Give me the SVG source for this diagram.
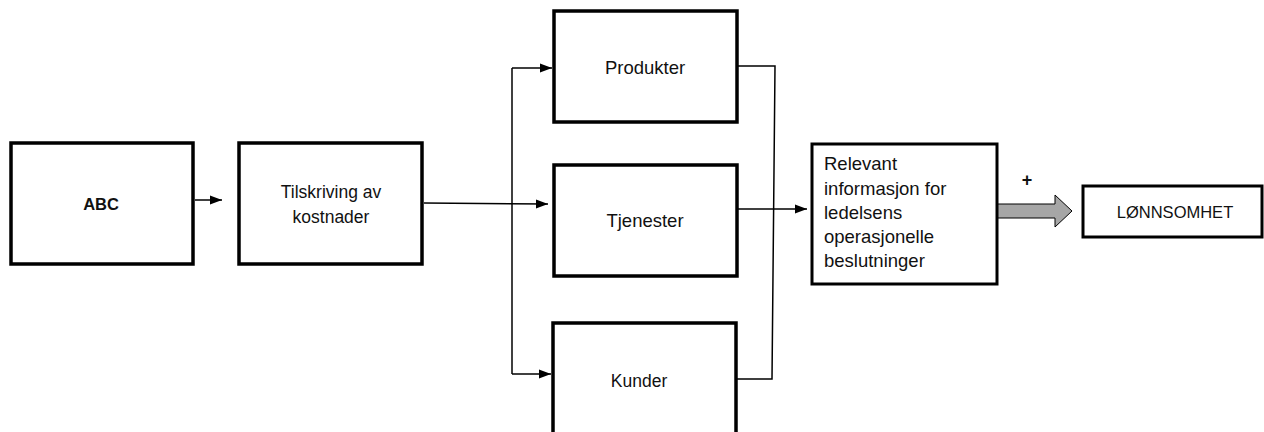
<svg xmlns="http://www.w3.org/2000/svg" width="1264" height="432" viewBox="0 0 1264 432">
  <defs>
    <marker id="arrow" markerWidth="12" markerHeight="10" refX="12" refY="5" orient="auto" markerUnits="userSpaceOnUse">
      <path d="M0,0.5 L12,5 L0,9.5 Z" fill="#000"/>
    </marker>
  </defs>
  <style>
    .box { fill: #fff; stroke: #000; stroke-width: 3.5; }
    .box2 { fill: #fff; stroke: #000; stroke-width: 3; }
    .lbl { font-family: "Liberation Sans", Arial, sans-serif; font-size: 17.5px; fill: #111; }
    .mid { text-anchor: middle; }
    .conn { fill: none; stroke: #000; stroke-width: 1.5; }
  </style>
  <rect width="1264" height="432" fill="#fff"/>

  <!-- connectors -->
  <g id="connectors">
    <line class="conn" x1="195" y1="200" x2="222" y2="200" marker-end="url(#arrow)"/>
    <line class="conn" x1="424" y1="203" x2="548" y2="204" marker-end="url(#arrow)"/>
    <polyline class="conn" points="512,68 512,374"/>
    <line class="conn" x1="512" y1="68" x2="552" y2="68" marker-end="url(#arrow)"/>
    <line class="conn" x1="512" y1="374" x2="551" y2="374" marker-end="url(#arrow)"/>
    <polyline class="conn" points="738,66 775,66 772,379 737,379"/>
    <line class="conn" x1="738" y1="209" x2="807" y2="209" marker-end="url(#arrow)"/>
    <!-- block arrow towards profitability -->
    <path d="M997,204 L1055,204 L1055,195 L1072,211 L1055,227 L1055,218 L997,218 Z" fill="#a6a6a6" stroke="#000" stroke-width="1"/>
    <text x="1027" y="186" class="lbl mid" style="font-weight:bold;font-size:18px">+</text>
  </g>

  <g id="abc">
    <rect class="box" x="11" y="143" width="182" height="121"/>
    <text x="101" y="210" class="lbl mid" style="font-weight:bold;font-size:16.5px">ABC</text>
  </g>

  <g id="tilskriving">
    <rect class="box" x="239" y="143" width="183" height="121"/>
    <text x="331" y="198" class="lbl mid">Tilskriving av</text>
    <text x="331" y="223" class="lbl mid">kostnader</text>
  </g>

  <g id="produkter">
    <rect class="box" x="554" y="11" width="183" height="111"/>
    <text x="645" y="74" class="lbl mid" style="font-size:18.5px">Produkter</text>
  </g>

  <g id="tjenester">
    <rect class="box" x="554" y="165" width="183" height="111"/>
    <text x="645" y="227" class="lbl mid" style="font-size:18.5px">Tjenester</text>
  </g>

  <g id="kunder">
    <rect class="box" x="553" y="323" width="183" height="112"/>
    <text x="639" y="387" class="lbl mid">Kunder</text>
  </g>

  <g id="relevant">
    <rect class="box2" x="812" y="144" width="185" height="140"/>
    <text class="lbl" x="824" y="170" style="font-size:18.5px">Relevant</text>
    <text class="lbl" x="824" y="195" style="font-size:18.5px">informasjon for</text>
    <text class="lbl" x="824" y="219" style="font-size:18.5px">ledelsens</text>
    <text class="lbl" x="824" y="243" style="font-size:18.5px">operasjonelle</text>
    <text class="lbl" x="824" y="267" style="font-size:18.5px">beslutninger</text>
  </g>

  <g id="lonnsomhet">
    <rect class="box2" x="1083" y="186" width="179" height="51"/>
    <text x="1175" y="218" class="lbl mid" style="font-size:16.5px">LØNNSOMHET</text>
  </g>
</svg>
